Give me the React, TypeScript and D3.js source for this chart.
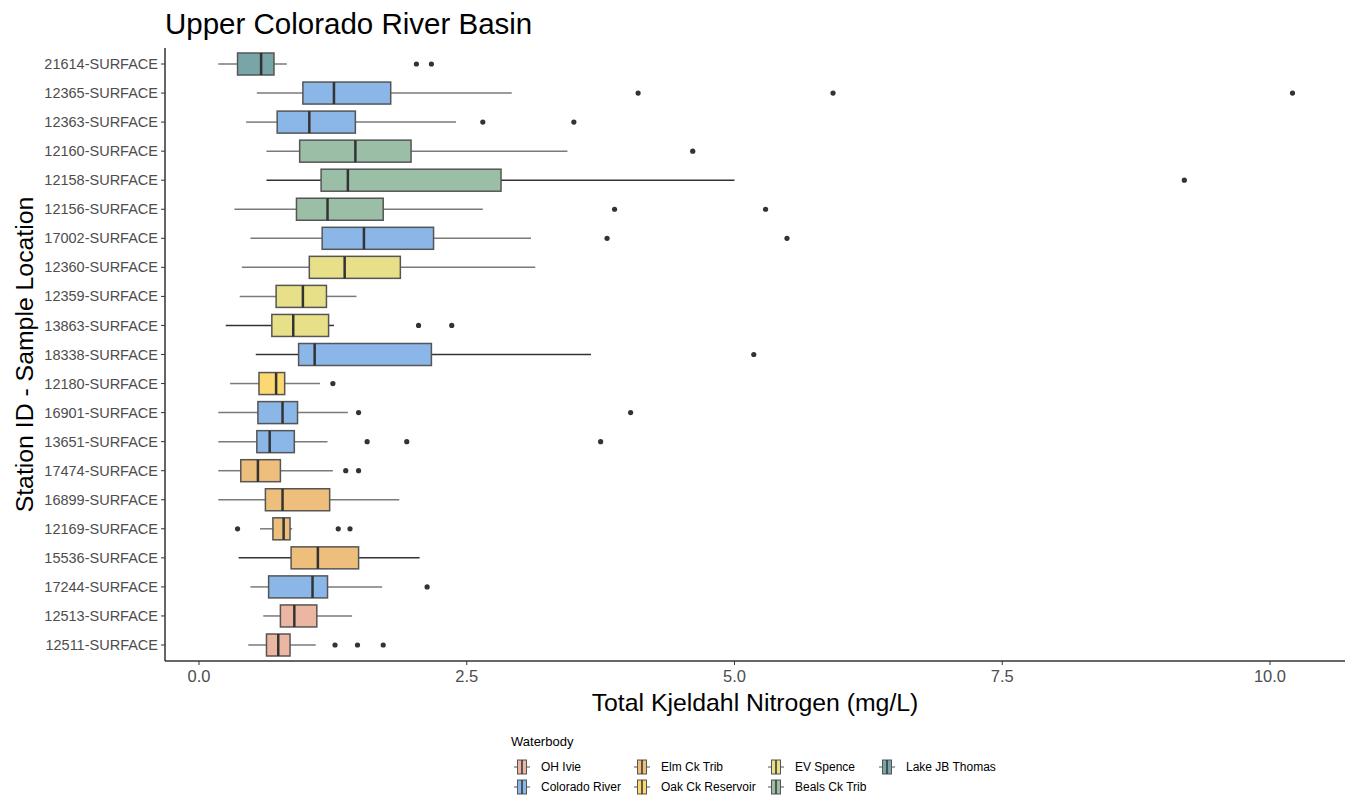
import * as d3 from 'd3';

const stations = [
  '21614-SURFACE', '12365-SURFACE', '12363-SURFACE', '12160-SURFACE', '12158-SURFACE',
  '12156-SURFACE', '17002-SURFACE', '12360-SURFACE', '12359-SURFACE', '13863-SURFACE',
  '18338-SURFACE', '12180-SURFACE', '16901-SURFACE', '13651-SURFACE', '17474-SURFACE',
  '16899-SURFACE', '12169-SURFACE', '15536-SURFACE', '17244-SURFACE', '12513-SURFACE',
  '12511-SURFACE',
];
const waterbody = [
  'Lake JB Thomas', 'Colorado River', 'Colorado River', 'Beals Ck Trib', 'Beals Ck Trib',
  'Beals Ck Trib', 'Colorado River', 'EV Spence', 'EV Spence', 'EV Spence',
  'Colorado River', 'Oak Ck Reservoir', 'Colorado River', 'Colorado River', 'Elm Ck Trib',
  'Elm Ck Trib', 'Elm Ck Trib', 'Elm Ck Trib', 'Colorado River', 'OH Ivie',
  'OH Ivie',
];
const whiskerLow = [0.18, 0.54, 0.44, 0.63, 0.63, 0.33, 0.48, 0.40, 0.38, 0.25, 0.53, 0.29, 0.18, 0.18, 0.18, 0.18, 0.57, 0.37, 0.48, 0.60, 0.46];
const q1 = [0.36, 0.97, 0.73, 0.94, 1.14, 0.91, 1.15, 1.03, 0.72, 0.68, 0.93, 0.56, 0.55, 0.54, 0.39, 0.62, 0.69, 0.86, 0.65, 0.76, 0.63];
const median = [0.58, 1.26, 1.03, 1.46, 1.39, 1.20, 1.54, 1.36, 0.97, 0.88, 1.08, 0.72, 0.78, 0.66, 0.55, 0.78, 0.79, 1.11, 1.06, 0.89, 0.74];
const q3 = [0.70, 1.79, 1.46, 1.98, 2.82, 1.72, 2.19, 1.88, 1.19, 1.21, 2.17, 0.80, 0.92, 0.89, 0.76, 1.22, 0.85, 1.49, 1.20, 1.10, 0.85];
const whiskerHigh = [0.82, 2.92, 2.40, 3.44, 5.00, 2.65, 3.10, 3.14, 1.47, 1.26, 3.66, 1.13, 1.39, 1.20, 1.25, 1.87, 0.87, 2.06, 1.71, 1.43, 1.09];
const outliers = [
  [2.03, 2.17], [4.10, 5.92, 10.21], [2.65, 3.50], [4.61], [9.20],
  [3.88, 5.29], [3.81, 5.49], [], [], [2.05, 2.36],
  [5.18], [1.25], [1.49, 4.03], [1.57, 1.94, 3.75], [1.37, 1.49],
  [], [0.36, 1.30, 1.41], [], [2.13], [],
  [1.27, 1.48, 1.72],
];
// darker whiskers on a few rows
const whiskerDark = [false, false, false, false, true, false, false, false, false, true, true, false, false, false, false, false, false, true, false, false, false];

const legendOrder = ['OH Ivie', 'Colorado River', 'Elm Ck Trib', 'Oak Ck Reservoir', 'EV Spence', 'Beals Ck Trib', 'Lake JB Thomas'];
const legendColors = ['#EBB6A2', '#8BB6E8', '#EEBE7C', '#FBD870', '#E8E088', '#9BBEA6', '#78A6A8'];
const xTicks = [0, 2.5, 5, 7.5, 10];

const W = 1354;
const H = 797;

export default function App() {
  const x = d3.scaleLinear().domain([0, 10]).range([199, 1270]);
  const y = d3.scalePoint<string>().domain(stations).range([64, 645]);
  const color = d3.scaleOrdinal<string, string>().domain(legendOrder).range(legendColors);
  const boxH = 22;
  const axisLeft = 165;
  const axisRight = 1345;
  const axisBottom = 661;
  const tickFmt = d3.format('.1f');

  const legendX = [541, 661, 795, 906];
  const legendY = [767, 787];

  return (
    <div style={{ position: 'fixed', left: 0, top: 0 }}>
      <svg width={W} height={H} style={{ display: 'block', background: '#fff', fontFamily: 'Arial, "Liberation Sans", sans-serif' }}>
        <text x={165} y={34} fontSize={29.5} fill="#000">Upper Colorado River Basin</text>

        {stations.map((s, i) => {
          const cy = y(s) as number;
          const wc = whiskerDark[i] ? '#333' : '#7a7a7a';
          return (
            <g key={s}>
              <line x1={x(whiskerLow[i])} x2={x(q1[i])} y1={cy} y2={cy} stroke={wc} strokeWidth={1.5} />
              <line x1={x(q3[i])} x2={x(whiskerHigh[i])} y1={cy} y2={cy} stroke={wc} strokeWidth={1.5} />
              <rect x={x(q1[i])} y={cy - boxH / 2} width={x(q3[i]) - x(q1[i])} height={boxH}
                fill={color(waterbody[i])} stroke="#555" strokeWidth={1.5} />
              <line x1={x(median[i])} x2={x(median[i])} y1={cy - boxH / 2} y2={cy + boxH / 2} stroke="#333" strokeWidth={2.5} />
              {outliers[i].map((o, j) => (
                <circle key={j} cx={x(o)} cy={cy} r={2.6} fill="#333" />
              ))}
              <line x1={axisLeft - 4} x2={axisLeft} y1={cy} y2={cy} stroke="#333" strokeWidth={1} />
              <text x={axisLeft - 7} y={cy} dy="0.35em" textAnchor="end" fontSize={14.5} fill="#4d4d4d">{s}</text>
            </g>
          );
        })}

        <line x1={axisLeft} x2={axisLeft} y1={48} y2={axisBottom} stroke="#333" strokeWidth={1.5} />
        <line x1={axisLeft} x2={axisRight} y1={axisBottom} y2={axisBottom} stroke="#333" strokeWidth={1.5} />
        {xTicks.map(t => (
          <g key={t}>
            <line x1={x(t)} x2={x(t)} y1={axisBottom} y2={axisBottom + 4} stroke="#333" />
            <text x={x(t)} y={682} textAnchor="middle" fontSize={16.5} fill="#4d4d4d">{tickFmt(t)}</text>
          </g>
        ))}

        <text x={755} y={711} textAnchor="middle" fontSize={24.8} fill="#000">Total Kjeldahl Nitrogen (mg/L)</text>
        <text transform={`translate(33,${(48 + axisBottom) / 2}) rotate(-90)`} textAnchor="middle" fontSize={24.8} fill="#000">
          Station ID - Sample Location
        </text>

        <text x={511} y={746} fontSize={13} fill="#000">Waterbody</text>
        {legendOrder.map((name, k) => {
          const col = Math.floor(k / 2);
          const row = k % 2;
          const lx = legendX[col];
          const ly = legendY[row];
          const kx = lx - 19;
          return (
            <g key={name}>
              <line x1={kx - 8} x2={kx + 8} y1={ly} y2={ly} stroke="#555" strokeWidth={1} />
              <rect x={kx - 4.5} y={ly - 7} width={9} height={14} fill={legendColors[k]} stroke="#555" strokeWidth={1} />
              <line x1={kx} x2={kx} y1={ly - 7} y2={ly + 7} stroke="#333" strokeWidth={1.5} />
              <text x={lx} y={ly} dy="0.35em" fontSize={12} fill="#000">{name}</text>
            </g>
          );
        })}
      </svg>
    </div>
  );
}
